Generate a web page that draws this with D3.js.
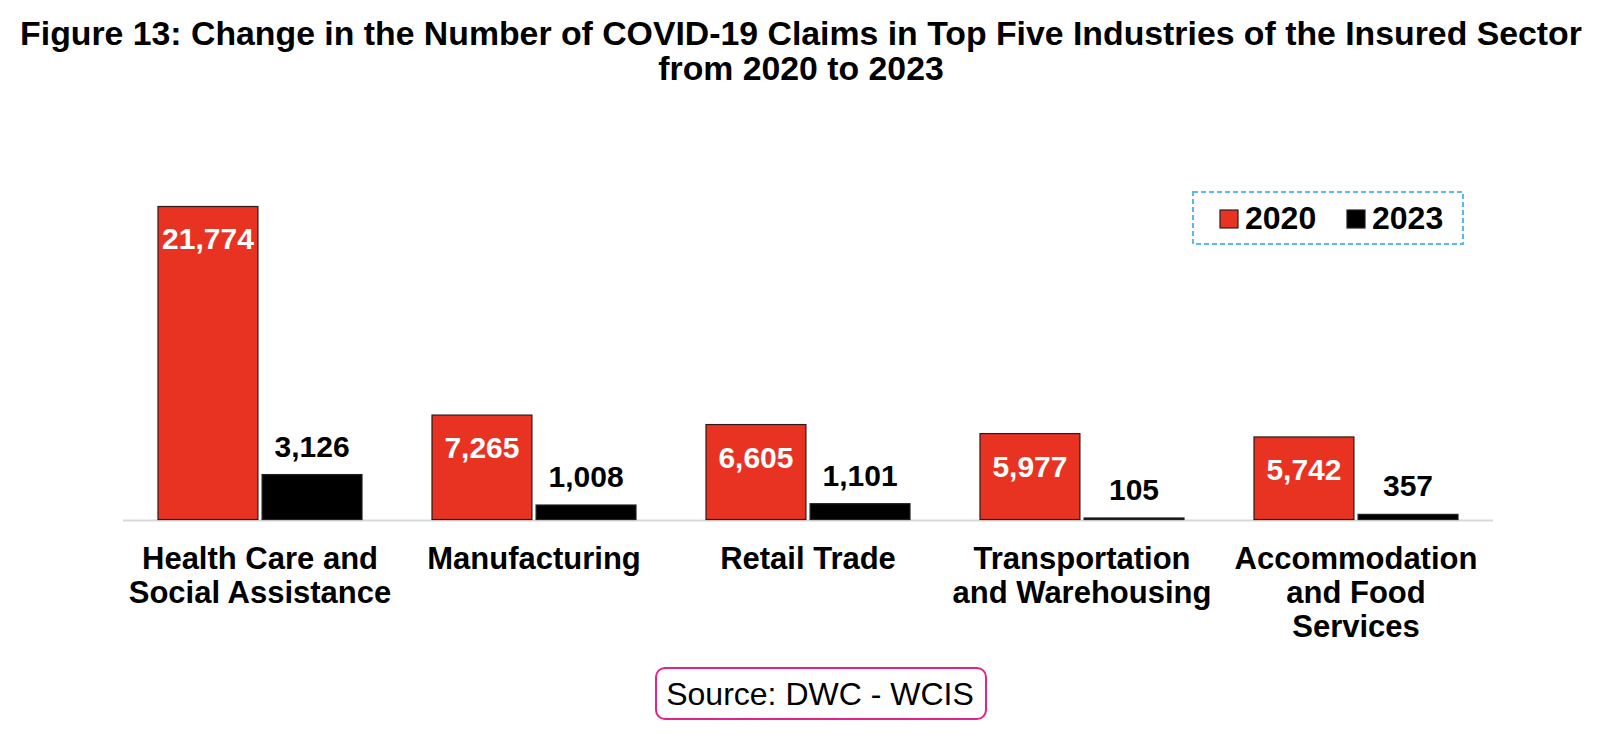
<!DOCTYPE html>
<html>
<head>
<meta charset="utf-8">
<script src="https://cdn.jsdelivr.net/npm/d3@7"></script>
<style>
  html, body { margin: 0; padding: 0; background: #fff; }
  svg { display: block; font-family: "Liberation Sans", Arial, Helvetica, sans-serif; }
</style>
</head>
<body>
<svg id="chart" width="1600" height="734"></svg>
<script>
// ---- Data ----
const titleLines = [
  "Figure 13: Change in the Number of COVID-19 Claims in Top Five Industries of the Insured Sector",
  "from 2020 to 2023"
];
const categories = [
  ["Health Care and", "Social Assistance"],
  ["Manufacturing"],
  ["Retail Trade"],
  ["Transportation", "and Warehousing"],
  ["Accommodation", "and Food", "Services"]
];
const seriesNames = ["2020", "2023"];
const values2020 = [21774, 7265, 6605, 5977, 5742];
const values2023 = [3126, 1008, 1101, 105, 357];
const sourceText = "Source: DWC - WCIS";

// ---- Layout ----
const svg = d3.select("#chart");
const colors = { "2020": "#e83323", "2023": "#000000" };
const baseY = 519.5;
const catKeys = categories.map(c => c.join(" "));
const x0 = d3.scaleBand().domain(catKeys).range([123, 1493]).padding(0);
const x1 = d3.scaleBand().domain(seriesNames).range([35, 239]).paddingInner(0.04);
const y = d3.scaleLinear().domain([0, 24000]).range([baseY, 174.5]);
const fmt = d3.format(",");

const rows = catKeys.map((k, i) => ({ key: k, lines: categories[i], i,
  vals: [{ s: "2020", v: values2020[i] }, { s: "2023", v: values2023[i] }] }));

// Title
svg.append("g").selectAll("text").data(titleLines).join("text")
  .attr("x", 801).attr("y", (d, i) => 45 + i * 35)
  .attr("text-anchor", "middle")
  .attr("font-size", 33.8).attr("font-weight", "bold").attr("fill", "#000")
  .text(d => d);

// Baseline
svg.append("line")
  .attr("x1", 123).attr("x2", 1493).attr("y1", baseY + 1).attr("y2", baseY + 1)
  .attr("stroke", "#d9d9d9").attr("stroke-width", 2);

// Bars
const groups = svg.append("g").selectAll("g").data(rows).join("g")
  .attr("transform", d => `translate(${x0(d.key)},0)`);

groups.selectAll("rect").data(d => d.vals).join("rect")
  .attr("x", d => x1(d.s))
  .attr("y", d => y(d.v))
  .attr("width", x1.bandwidth())
  .attr("height", d => baseY - y(d.v))
  .attr("fill", d => colors[d.s])
  .attr("stroke", d => d.s === "2020" ? "#2a1a18" : "#222")
  .attr("stroke-width", 1.2);

// Value labels
groups.selectAll("text.val").data(d => d.vals).join("text")
  .attr("class", "val")
  .attr("x", d => x1(d.s) + x1.bandwidth() / 2)
  .attr("y", d => d.s === "2020" ? y(d.v) + 43 : y(d.v) - 18)
  .attr("text-anchor", "middle")
  .attr("font-size", 30).attr("font-weight", "bold")
  .attr("fill", d => d.s === "2020" ? "#fff" : "#000")
  .text(d => fmt(d.v));

// Category labels
svg.append("g").selectAll("text").data(rows).join("text")
  .attr("text-anchor", "middle")
  .attr("font-size", 31).attr("font-weight", "bold").attr("fill", "#000")
  .attr("transform", d => `translate(${x0(d.key) + x0.bandwidth() / 2},569)`)
  .selectAll("tspan").data(d => d.lines).join("tspan")
  .attr("x", 0).attr("y", (d, i) => i * 34)
  .text(d => d);

// Legend
const lg = svg.append("g");
lg.append("rect").attr("x", 1193).attr("y", 192).attr("width", 270).attr("height", 52)
  .attr("fill", "none").attr("stroke", "#5bb8ee").attr("stroke-width", 2)
  .attr("stroke-dasharray", "5,3");
const legendX = [1220, 1347];
seriesNames.forEach((s, i) => {
  lg.append("rect").attr("x", legendX[i]).attr("y", 210).attr("width", 18).attr("height", 18)
    .attr("fill", colors[s]).attr("stroke", "#222").attr("stroke-width", 1.2);
  lg.append("text").attr("x", legendX[i] + 25).attr("y", 229)
    .attr("font-size", 32).attr("font-weight", "bold").attr("fill", "#000").text(s);
});

// Source box
svg.append("rect").attr("x", 656).attr("y", 668).attr("width", 330).attr("height", 51)
  .attr("rx", 9).attr("fill", "#fff").attr("stroke", "#e0238f").attr("stroke-width", 2);
svg.append("text").attr("x", 820).attr("y", 705).attr("text-anchor", "middle")
  .attr("font-size", 32).attr("fill", "#000").text(sourceText);
</script>
</body>
</html>
